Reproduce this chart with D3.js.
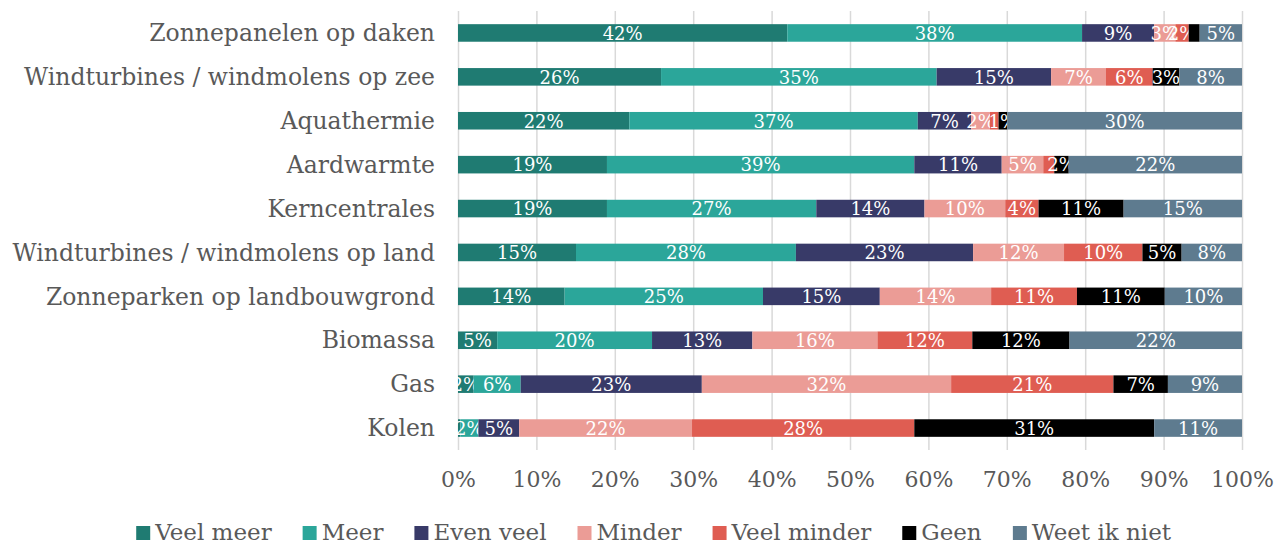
<!DOCTYPE html>
<html>
<head>
<meta charset="utf-8">
<script src="https://cdn.jsdelivr.net/npm/d3@7"></script>
<style>
  body { margin: 0; background: #fff; }
  svg text { font-family: "DejaVu Serif", serif; }
  .grid line { stroke: #d9d9d9; stroke-width: 1.5; }
  .grid path { display: none; }
  .category { fill: #595959; font-size: 23.5px; }
  .tick-label text { fill: #595959; font-size: 22px; }
  .bar-label { fill: #fff; font-size: 18px; }
  .legend text { fill: #595959; font-size: 23px; }
</style>
</head>
<body>
<div id="wrapper"></div>
<script>
// data (share in %)
const categories = [
  "Zonnepanelen op daken",
  "Windturbines / windmolens op zee",
  "Aquathermie",
  "Aardwarmte",
  "Kerncentrales",
  "Windturbines / windmolens op land",
  "Zonneparken op landbouwgrond",
  "Biomassa",
  "Gas",
  "Kolen",
];
const seriesNames = ["Veel meer", "Meer", "Even veel", "Minder", "Veel minder", "Geen", "Weet ik niet"];
const veelMeer   = [42.0, 25.9, 21.85, 19.0, 19.0, 15.05, 13.6, 5.0, 2.0, 0.3];
const meer       = [37.6, 35.15, 36.8, 39.2, 26.7, 28.05, 25.3, 19.75, 6.0, 2.3];
const evenVeel   = [9.2, 14.6, 6.8, 11.15, 13.8, 22.6, 14.9, 12.8, 23.1, 5.2];
const minder     = [2.7, 7.0, 2.4, 5.3, 10.3, 11.6, 14.2, 15.95, 31.8, 22.05];
const veelMinder = [1.7, 5.95, 1.1, 1.4, 4.25, 10.0, 10.95, 12.1, 20.7, 28.35];
const geen       = [1.4, 3.4, 1.1, 1.85, 10.85, 5.0, 11.2, 12.4, 6.95, 30.6];
const weetIkNiet = [5.4, 8.0, 29.95, 22.1, 15.1, 7.7, 9.85, 22.0, 9.45, 11.2];
// segments without a visible label: [category, series]
const hiddenLabels = [
  ["Zonnepanelen op daken", "Geen"],
  ["Aquathermie", "Veel minder"],
  ["Aardwarmte", "Veel minder"],
  ["Kolen", "Veel meer"],
];
const xTicks = [0, 0.1, 0.2, 0.3, 0.4, 0.5, 0.6, 0.7, 0.8, 0.9, 1];
const colors = ["#1f7b72", "#2ba69a", "#383a68", "#eb9c96", "#df5d52", "#000000", "#5e7b8f"];

const seriesValues = [veelMeer, meer, evenVeel, minder, veelMinder, geen, weetIkNiet];
const rows = categories.map((c, i) => {
  const row = { category: c };
  seriesNames.forEach((s, j) => (row[s] = seriesValues[j][i] / 100));
  return row;
});

const width = 1279;
const height = 545;
const margin = { top: 11, right: 37, bottom: 95, left: 458 };

const svg = d3.select("#wrapper").append("svg")
  .attr("width", width)
  .attr("height", height);

const x = d3.scaleLinear().domain([0, 1]).range([margin.left, width - margin.right]);
const y = d3.scaleBand()
  .domain(categories)
  .range([margin.top, height - margin.bottom])
  .paddingInner(0.6)
  .paddingOuter(0.3);
const color = d3.scaleOrdinal().domain(seriesNames).range(colors);

// gridlines
svg.append("g")
  .attr("class", "grid")
  .attr("transform", `translate(0,${height - margin.bottom})`)
  .call(d3.axisBottom(x).tickValues(xTicks).tickSize(-(height - margin.bottom - margin.top)).tickFormat(""));

// axis labels
svg.append("g")
  .attr("class", "tick-label")
  .attr("transform", `translate(0,${height - margin.bottom})`)
  .call(d3.axisBottom(x).tickValues(xTicks).tickSize(0).tickPadding(21).tickFormat(d3.format(".0%")))
  .call((g) => g.select(".domain").remove())
  .selectAll("text")
  .attr("font-family", null)
  .attr("font-size", null);

// category labels
svg.append("g")
  .selectAll("text")
  .data(categories)
  .join("text")
  .attr("class", "category")
  .attr("x", margin.left - 23)
  .attr("y", (d) => y(d) + y.bandwidth() / 2)
  .attr("dy", "0.35em")
  .attr("text-anchor", "end")
  .text((d) => d);

// bars
const stacked = d3.stack().keys(seriesNames)(rows);
const layers = svg.append("g")
  .selectAll("g")
  .data(stacked)
  .join("g")
  .attr("fill", (d) => color(d.key));

layers.selectAll("rect")
  .data((d) => d)
  .join("rect")
  .attr("x", (d) => x(d[0]))
  .attr("y", (d) => y(d.data.category))
  .attr("width", (d) => x(d[1]) - x(d[0]))
  .attr("height", y.bandwidth());

const isHidden = (cat, key) => hiddenLabels.some(([c, k]) => c == cat && k == key);

layers.each(function (layer) {
  d3.select(this)
    .selectAll("text")
    .data(layer.filter((d) => !isHidden(d.data.category, layer.key)))
    .join("text")
    .attr("class", "bar-label")
    .attr("x", (d) => (x(d[0]) + x(d[1])) / 2)
    .attr("y", (d) => y(d.data.category) + y.bandwidth() / 2)
    .attr("dy", "0.38em")
    .attr("text-anchor", "middle")
    .text((d) => `${Math.round((d[1] - d[0]) * 100)}%`);
});

// legend
const legend = svg.append("g").attr("class", "legend");
const items = legend.selectAll("g")
  .data(seriesNames)
  .join("g");
items.append("rect")
  .attr("y", -6)
  .attr("width", 14)
  .attr("height", 14)
  .attr("fill", (d) => color(d));
items.append("text")
  .attr("x", 19)
  .attr("dy", "0.35em")
  .text((d) => d);

let offset = 0;
const gap = 31;
items.each(function () {
  const w = this.getBBox().width;
  d3.select(this).attr("transform", `translate(${offset},0)`);
  offset += w + gap;
});
const legendWidth = offset - gap;
legend.attr("transform", `translate(${654 - legendWidth / 2},${532})`);
</script>
</body>
</html>
